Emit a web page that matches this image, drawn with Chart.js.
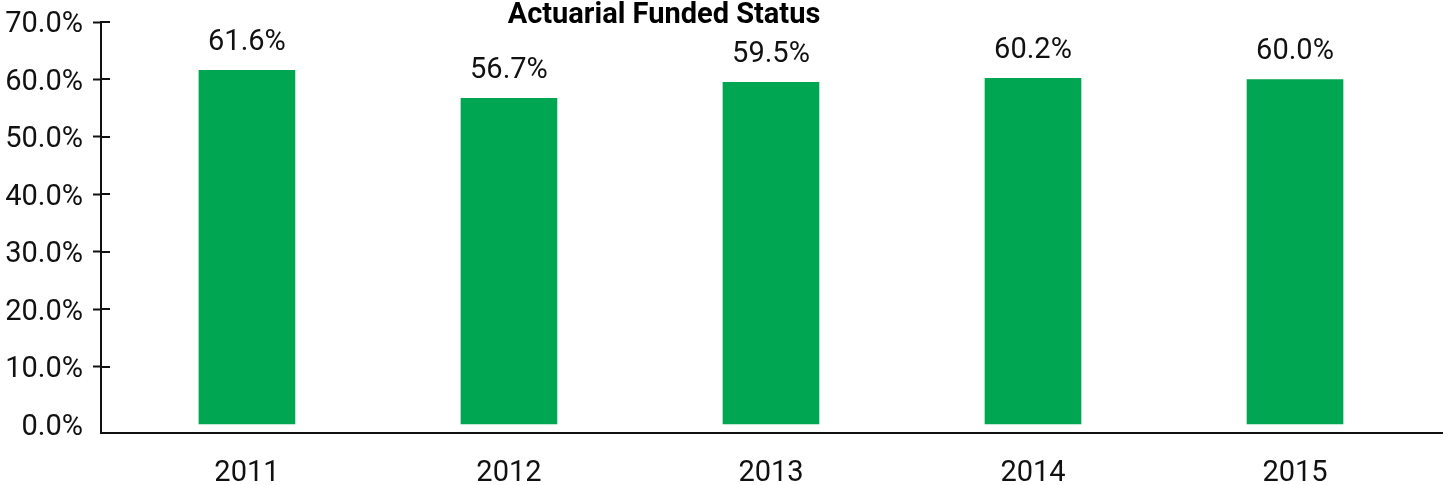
<!DOCTYPE html>
<html>
<head>
<meta charset="utf-8">
<script src="https://cdn.jsdelivr.net/npm/chart.js@4/dist/chart.umd.min.js"></script>
<style>
	html, body { margin: 0; padding: 0; background: #fff; }
	#wrap { width: 1449px; height: 485px; }
</style>
</head>
<body>
<div id="wrap"><canvas id="myChart" width="1449" height="485"></canvas></div>
<script>
'use strict'

const title = 'Actuarial Funded Status'
const years = ['2011', '2012', '2013', '2014', '2015']
const funded = [61.6, 56.7, 59.5, 60.2, 60.0]
const yTicks = [0, 10, 20, 30, 40, 50, 60, 70]

const FONT = "Roboto, 'Liberation Sans', sans-serif"
const GREEN = '#00a651'

// value labels over bars, title, and the little right-hand stubs on y ticks
const extras = {
	id: 'extras',
	afterDatasetsDraw(chart) {
		const ctx = chart.ctx
		const meta = chart.getDatasetMeta(0)
		ctx.save()
		ctx.fillStyle = '#111'
		ctx.font = '29px ' + FONT
		ctx.textAlign = 'center'
		ctx.textBaseline = 'alphabetic'
		meta.data.forEach((bar, i) => {
			ctx.fillText(funded[i].toFixed(1) + '%', bar.x, bar.y - 20)
		})
		ctx.restore()
	},
	afterDraw(chart) {
		const ctx = chart.ctx
		const y = chart.scales.y
		ctx.save()
		ctx.strokeStyle = '#111'
		ctx.lineWidth = 2
		yTicks.forEach(v => {
			if (v === 0) return
			const py = Math.round(y.getPixelForValue(v))
			ctx.beginPath()
			ctx.moveTo(chart.chartArea.left, py)
			ctx.lineTo(chart.chartArea.left + 9, py)
			ctx.stroke()
		})
		ctx.fillStyle = '#000'
		ctx.font = 'bold 29px ' + FONT
		ctx.textAlign = 'center'
		ctx.textBaseline = 'alphabetic'
		ctx.fillText(title, 664, 23)
		ctx.restore()
	}
}

const chartElement = document.querySelector('#myChart')
const chart = new Chart(chartElement, {
	type: 'bar',
	data: {
		datasets: [{
			data: years.map((yr, i) => ({ x: i, y: funded[i] })),
			backgroundColor: GREEN,
			borderWidth: 0,
			barThickness: 96
		}]
	},
	options: {
		responsive: false,
		animation: false,
		devicePixelRatio: 1,
		layout: { padding: { top: 22, right: 7, bottom: 0, left: 0 } },
		plugins: { legend: { display: false }, tooltip: { enabled: false }, title: { display: false } },
		scales: {
			x: {
				type: 'linear',
				offset: false,
				min: -0.557,
				max: 4.561,
				afterBuildTicks: s => { s.ticks = years.map((yr, i) => ({ value: i })) },
				afterFit: s => { s.height = 52; s.paddingLeft = 0; s.paddingRight = 0 },
				grid: { display: true, drawOnChartArea: false, drawTicks: false },
				border: { display: true, color: '#111', width: 2 },
				ticks: {
					padding: 23,
					color: '#111',
					font: { family: FONT, size: 29 },
					callback: v => years[v]
				}
			},
			y: {
				min: -1.5,
				max: 70,
				afterBuildTicks: s => { s.ticks = yTicks.map(v => ({ value: v })) },
				afterFit: s => { s.width = 101; s.paddingTop = 0; s.paddingBottom = 0 },
				grid: {
					display: true,
					drawOnChartArea: false,
					drawTicks: true,
					tickLength: 8,
					tickWidth: 2,
					tickColor: c => (c.tick && c.tick.value === 0) ? 'rgba(0,0,0,0)' : '#111'
				},
				border: { display: true, color: '#111', width: 2 },
				ticks: {
					padding: 10,
					labelOffset: 3,
					color: '#111',
					font: { family: FONT, size: 29 },
					callback: v => v.toFixed(1) + '%'
				}
			}
		}
	},
	plugins: [extras]
})
</script>
</body>
</html>
